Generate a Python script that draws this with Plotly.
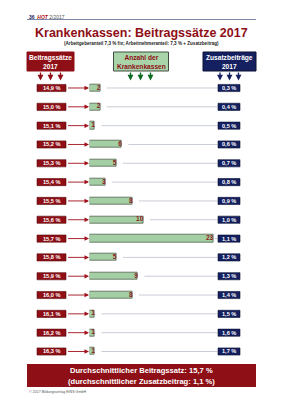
import plotly.graph_objects as go

# ---- data ----
rates = ["14,9 %", "15,0 %", "15,1 %", "15,2 %", "15,3 %", "15,4 %", "15,5 %", "15,6 %",
         "15,7 %", "15,8 %", "15,9 %", "16,0 %", "16,1 %", "16,2 %", "16,3 %"]
counts = [2, 2, 1, 6, 5, 3, 8, 10, 23, 5, 9, 8, 1, 1, 1]
extra = ["0,3 %", "0,4 %", "0,5 %", "0,6 %", "0,7 %", "0,8 %", "0,9 %", "1,0 %",
         "1,1 %", "1,2 %", "1,3 %", "1,4 %", "1,5 %", "1,6 %", "1,7 %"]

title = "Krankenkassen: Beitragssätze 2017"
subtitle = "(Arbeitgeberanteil 7,3 % fix; Arbeitnehmeranteil: 7,3 % + Zusatzbeitrag)"
summary1 = "Durchschnittlicher Beitragssatz: 15,7 %"
summary2 = "(durchschnittlicher Zusatzbeitrag: 1,1 %)"

# ---- layout constants ----
W, H = 283, 400
RED = "#8e0f16"
NAVY = "#142060"
GREEN_FILL = "#a4cfa4"
GREEN_LINE = "#53624f"
GREEN_ARROW = "#0b6b22"
GREY = "#c9cdd8"
FONT = "Arial, Liberation Sans, sans-serif"

def X(px):
    return px / W

def Y(py):
    return 1 - py / H

bar_x0 = 89.5
unit = 5.38
row_top, row_bot = 88.0, 351.5
n = len(rates)
step = (row_bot - row_top) / (n - 1)
ydom = [Y(row_bot + step / 2), Y(row_top - step / 2)]
xrange_max = (W - bar_x0) / unit
half = 0.19

idx = list(range(n))

fig = go.Figure()

# grey guide lines from bar end to navy labels
line_end = (217.5 - bar_x0) / unit
gx, gy = [], []
for i, c in zip(idx, counts):
    s = c + 6.5 / unit
    if s >= line_end:
        s = c + 1.5 / unit
    gx += [s, line_end, None]
    gy += [i, i, None]
fig.add_trace(go.Scatter(x=gx, y=gy, mode="lines", line=dict(color=GREY, width=1),
                         hoverinfo="skip", showlegend=False))

fig.add_trace(go.Bar(x=counts, y=idx, orientation="h", width=2 * half,
                     marker=dict(color=GREEN_FILL, line=dict(color=GREEN_LINE, width=0.8)),
                     showlegend=False, hoverinfo="skip"))

fig.add_trace(go.Scatter(x=counts, y=idx, mode="text", text=[str(c) for c in counts],
                         textposition="middle left",
                         textfont=dict(color="#8b1a1a", size=6.5, family=FONT, weight="bold"),
                         showlegend=False, hoverinfo="skip"))

shapes = []
ann = []

# header line
ann.append(dict(xref="paper", yref="paper", x=X(27), y=Y(16.5), xanchor="left", yanchor="middle",
                text="<b><span style='color:#142060'>36</span>  <span style='color:#b01010'><i>HOT</i></span></b> <span style='color:#555'>2/2017</span>",
                showarrow=False, font=dict(size=5, family=FONT)))
shapes.append(dict(type="line", xref="paper", yref="paper", x0=X(27), x1=X(256), y0=Y(19.5), y1=Y(19.5),
                   line=dict(color="#7a86a8", width=1)))

# title
ann.append(dict(xref="paper", yref="paper", x=0.5, y=Y(33), xanchor="center", yanchor="middle",
                text="<b>" + title + "</b>", showarrow=False,
                font=dict(size=12.5, color=RED, family=FONT)))
ann.append(dict(xref="paper", yref="paper", x=0.5, y=Y(43), xanchor="center", yanchor="middle",
                text="<b>" + subtitle + "</b>", showarrow=False,
                font=dict(size=4.6, color="#222", family=FONT)))

# header boxes
boxes = [
    (27, 74, RED, RED, "white", "Beitragssätze<br>2017", [40.5, 50.5, 60.5], RED),
    (113.5, 168.5, "#a9d4a9", "#3f4f3f", RED, "Anzahl der<br>Krankenkassen", [130.5, 140.5, 150.5], GREEN_ARROW),
    (203, 256, NAVY, "#0a1030", "white", "Zusatzbeiträge<br>2017", [220, 229.5, 238.5], NAVY),
]
for x0, x1, fill, lc, tc, txt, arrows, ac in boxes:
    shapes.append(dict(type="rect", xref="paper", yref="paper", x0=X(x0), x1=X(x1), y0=Y(71), y1=Y(52),
                       fillcolor=fill, line=dict(color=lc, width=1)))
    ann.append(dict(xref="paper", yref="paper", x=X((x0 + x1) / 2), y=Y(61.5), xanchor="center",
                    yanchor="middle", text="<b>" + txt + "</b>", showarrow=False,
                    font=dict(size=6.6, color=tc, family=FONT)))
    for ax_ in arrows:
        ann.append(dict(xref="paper", yref="paper", x=X(ax_), y=Y(80.5), ax=0, ay=-9.5, text="",
                        showarrow=True, arrowhead=2, arrowsize=0.9, arrowwidth=1.3, arrowcolor=ac,
                        standoff=0))

# rows
for i, r, e in zip(idx, rates, extra):
    shapes.append(dict(type="rect", xref="paper", yref="y", x0=X(37), x1=X(66), y0=i - half, y1=i + half,
                       fillcolor=RED, line=dict(color="#5a0a0a", width=0.6)))
    ann.append(dict(xref="paper", yref="y", x=X(51.5), y=i, xanchor="center", yanchor="middle",
                    text="<b>" + r + "</b>", showarrow=False,
                    font=dict(size=5.6, color="white", family=FONT)))
    ann.append(dict(xref="x", yref="y", x=0, y=i, ax=-(bar_x0 - 66.5), ay=0, text="",
                    showarrow=True, arrowhead=2, arrowsize=1, arrowwidth=0.9, arrowcolor="#a0101a",
                    standoff=0.5))
    shapes.append(dict(type="rect", xref="paper", yref="y", x0=X(218), x1=X(240), y0=i - half, y1=i + half,
                       fillcolor=NAVY, line=dict(color="#0a1030", width=0.6)))
    ann.append(dict(xref="paper", yref="y", x=X(229), y=i, xanchor="center", yanchor="middle",
                    text="<b>" + e + "</b>", showarrow=False,
                    font=dict(size=5.6, color="white", family=FONT)))

# summary box
shapes.append(dict(type="rect", xref="paper", yref="paper", x0=X(27), x1=X(256), y0=Y(387), y1=Y(364),
                   fillcolor=RED, line=dict(color=RED, width=0)))
ann.append(dict(xref="paper", yref="paper", x=0.5, y=Y(370.5), xanchor="center", yanchor="middle",
                text="<b>" + summary1 + "</b>", showarrow=False,
                font=dict(size=7.6, color="white", family=FONT)))
ann.append(dict(xref="paper", yref="paper", x=0.5, y=Y(381), xanchor="center", yanchor="middle",
                text="<b>" + summary2 + "</b>", showarrow=False,
                font=dict(size=7.6, color="white", family=FONT)))
ann.append(dict(xref="paper", yref="paper", x=X(27), y=Y(392), xanchor="left", yanchor="middle",
                text="© 2017 Bildungsverlag EINS GmbH", showarrow=False,
                font=dict(size=3.6, color="#555", family=FONT)))

fig.update_layout(
    width=W, height=H, margin=dict(l=0, r=0, t=0, b=0),
    paper_bgcolor="white", plot_bgcolor="rgba(0,0,0,0)",
    xaxis=dict(domain=[X(bar_x0), 1], range=[0, xrange_max], visible=False, fixedrange=True),
    yaxis=dict(domain=ydom, range=[n - 0.5, -0.5], visible=False, fixedrange=True),
    shapes=shapes, annotations=ann, bargap=0,
)

fig.write_html("out.html", config={"displayModeBar": False})
